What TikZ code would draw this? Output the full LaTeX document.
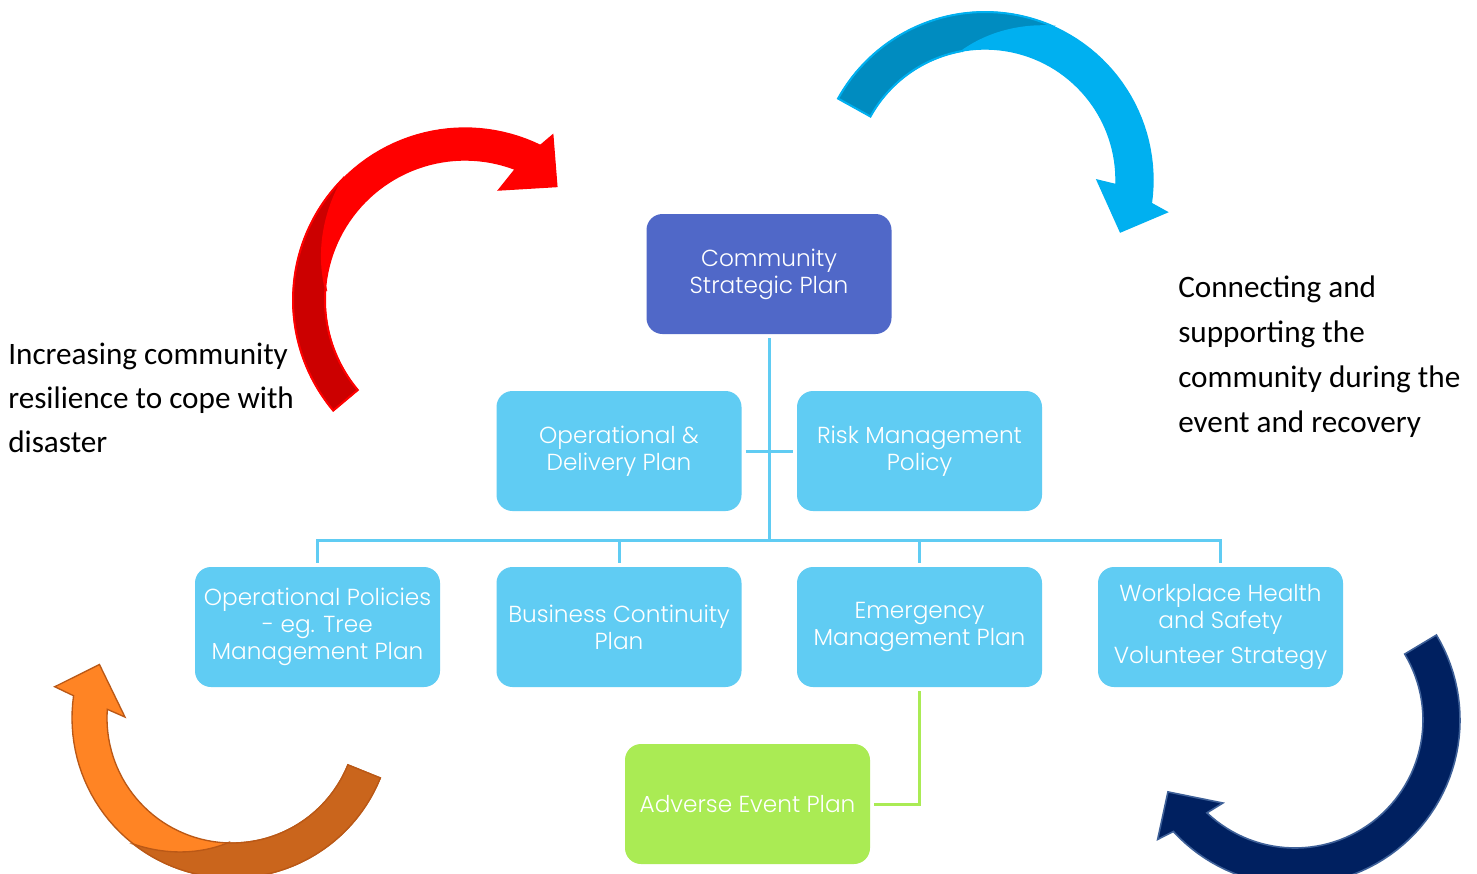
\documentclass[tikz,border=0pt]{standalone}
\usepackage{fontspec}
\setmainfont{Carlito}
\IfFontExistsTF{Poppins Light}{\newfontfamily\boxfont{Poppins Light}}{\newfontfamily\boxfont{Poppins}}
\definecolor{cspblue}{RGB}{80,104,200}
\definecolor{boxblue}{RGB}{96,204,243}
\definecolor{linkblue}{RGB}{96,204,243}
\definecolor{boxgreen}{RGB}{170,235,84}
\definecolor{redA}{RGB}{255,0,0}
\definecolor{redB}{RGB}{204,0,0}
\definecolor{blueA}{RGB}{0,176,240}
\definecolor{blueB}{RGB}{0,140,192}
\definecolor{orangeA}{RGB}{255,132,36}
\definecolor{orangeB}{RGB}{202,101,28}
\definecolor{orangeL}{RGB}{186,88,22}
\definecolor{navyA}{RGB}{0,32,96}
\definecolor{navyL}{RGB}{62,96,152}
\newcommand\CurvedArrow[1]{%
 \filldraw[#1] plot[domain=\ArA:\ArO,samples=60] ({\ArCX+\ArRo*cos(\x)},{\ArCY-\ArRo*sin(\x)})
 -- ({\ArCX+\ArRbo*cos(\ArBO)},{\ArCY-\ArRbo*sin(\ArBO)})
 -- ({\ArCX+\ArRt*cos(\ArT)},{\ArCY-\ArRt*sin(\ArT)})
 -- ({\ArCX+\ArRbi*cos(\ArBI)},{\ArCY-\ArRbi*sin(\ArBI)})
 -- plot[domain=\ArI:\ArA,samples=60] ({\ArCX+\ArRi*cos(\x)},{\ArCY-\ArRi*sin(\x)}) -- cycle;}
\newcommand\ArrowBack[1]{%
 \filldraw[#1] plot[domain=\ArA:\ArDO,samples=40] ({\ArCX+\ArRo*cos(\x)},{\ArCY-\ArRo*sin(\x)})
 -- plot[domain=\ArDO:\ArDI,samples=30] ({\ArCX+(\ArRo+(\ArRi-\ArRo)*(\x-\ArDO)/(\ArDI-\ArDO))*cos(\x)},{\ArCY-(\ArRo+(\ArRi-\ArRo)*(\x-\ArDO)/(\ArDI-\ArDO))*sin(\x)})
 -- plot[domain=\ArDI:\ArA,samples=40] ({\ArCX+\ArRi*cos(\x)},{\ArCY-\ArRi*sin(\x)}) -- cycle;}
\begin{document}
\begin{tikzpicture}[x=0.75pt,y=-0.75pt,
  box/.style={rounded corners=12pt, minimum width=183.75pt, minimum height=90pt, inner sep=2pt,
    align=center, text=white, font=\boxfont\fontsize{17.4}{20.2}\selectfont},
  lbox/.style={box, fill=boxblue},
  conn/.style={draw=linkblue, line width=2.25pt},
  gconn/.style={draw=boxgreen, line width=2.25pt},
  sidetext/.style={align=left, inner sep=0pt, anchor=west, text=black}]
\useasboundingbox (0,0) rectangle (1477,874);
\fill[white] (0,0) rectangle (1477,874);

% ---- curved arrows ----
% red (top left)
\def\ArCX{465}\def\ArCY{300}\def\ArRo{172}\def\ArRi{140}
\def\ArA{220}\def\ArO{64}\def\ArI{69}\def\ArBO{62}\def\ArRbo{187}\def\ArBI{73}\def\ArRbi{115}
\def\ArT{51}\def\ArRt{146}\def\ArDO{135}\def\ArDI{175}
\CurvedArrow{fill=redA, draw=redA, line width=1pt}
\ArrowBack{fill=redB, draw=redA, line width=1.5pt}
% blue (top right)
\def\ArCX{985}\def\ArCY{180}\def\ArRo{168}\def\ArRi{131}
\def\ArA{151}\def\ArO{-8}\def\ArI{-2}\def\ArBO{-10}\def\ArRbo{185}\def\ArBI{0}\def\ArRbi{112}
\def\ArT{-21}\def\ArRt{145}\def\ArDO{66}\def\ArDI{100}
\CurvedArrow{fill=blueA, draw=blueA, line width=1pt}
\ArrowBack{fill=blueB, draw=blueA, line width=1.5pt}
% orange (bottom left)
\def\ArCX{232}\def\ArCY{718}\def\ArRo{160}\def\ArRi{125}
\def\ArA{338}\def\ArO{172}\def\ArI{176}\def\ArBO{170}\def\ArRbo{180}\def\ArBI{179.5}\def\ArRbi{107}
\def\ArT{158}\def\ArRt{143}\def\ArDO{232}\def\ArDI{268}
\CurvedArrow{fill=orangeA, draw=orangeL, line width=1pt}
\ArrowBack{fill=orangeB, draw=orangeL, line width=1pt}
% navy (bottom right)
\def\ArCX{1295}\def\ArCY{720}\def\ArRo{165}\def\ArRi{128}
\def\ArA{31}\def\ArO{-137.5}\def\ArI{-133.5}\def\ArBO{-139}\def\ArRbo{182}\def\ArBI{-131}\def\ArRbi{110}
\def\ArT{-150.5}\def\ArRt{146}
\CurvedArrow{fill=navyA, draw=navyL, line width=1.2pt}

% ---- boxes ----
\node[box, fill=cspblue] (csp) at (769,274) {Community\\Strategic Plan};
\node[lbox] (opd) at (619,451) {Operational \&\\Delivery Plan};
\node[lbox] (rmp) at (919.5,451) {Risk Management\\Policy};
\node[lbox] (opp) at (317.5,627) {Operational Policies\\- eg. Tree\\Management Plan};
\node[lbox] (bcp) at (619,627) {Business Continuity\\Plan};
\node[lbox] (emp) at (919.5,627) {Emergency\\Management Plan};
\node[lbox] (wsh) at (1220.5,627) {Workplace Health\\and Safety\\[6pt]Volunteer Strategy};
\node[box, fill=boxgreen] (aep) at (747.5,804) {Adverse Event Plan};

% ---- connectors ----
\coordinate (bus) at (769,540);
\draw[conn, shorten <=3pt] (csp.south) -- (bus);
\draw[conn, shorten <=3pt, shorten >=3pt] (opd.east) -- (rmp.west);
\draw[conn, shorten <=3pt, shorten >=3pt] (opp.north) -- (opp.north |- bus) -| (wsh.north);
\draw[conn, shorten <=3pt] (bcp.north) -- (bcp.north |- bus);
\draw[conn, shorten <=3pt] (emp.north) -- (emp.north |- bus);
\draw[gconn, shorten <=3pt, shorten >=3pt] (emp.south) |- (aep.east);

% ---- side texts ----
\node[sidetext, font=\fontsize{23.4}{33}\selectfont] (lt) at (8,398)
  {Increasing community\\resilience to cope with\\disaster};
\node[sidetext, font=\fontsize{23.4}{33.75}\selectfont] (rt) at (1178,356.5)
  {Connecting and\\supporting the\\community during the\\event and recovery};
\end{tikzpicture}
\end{document}
